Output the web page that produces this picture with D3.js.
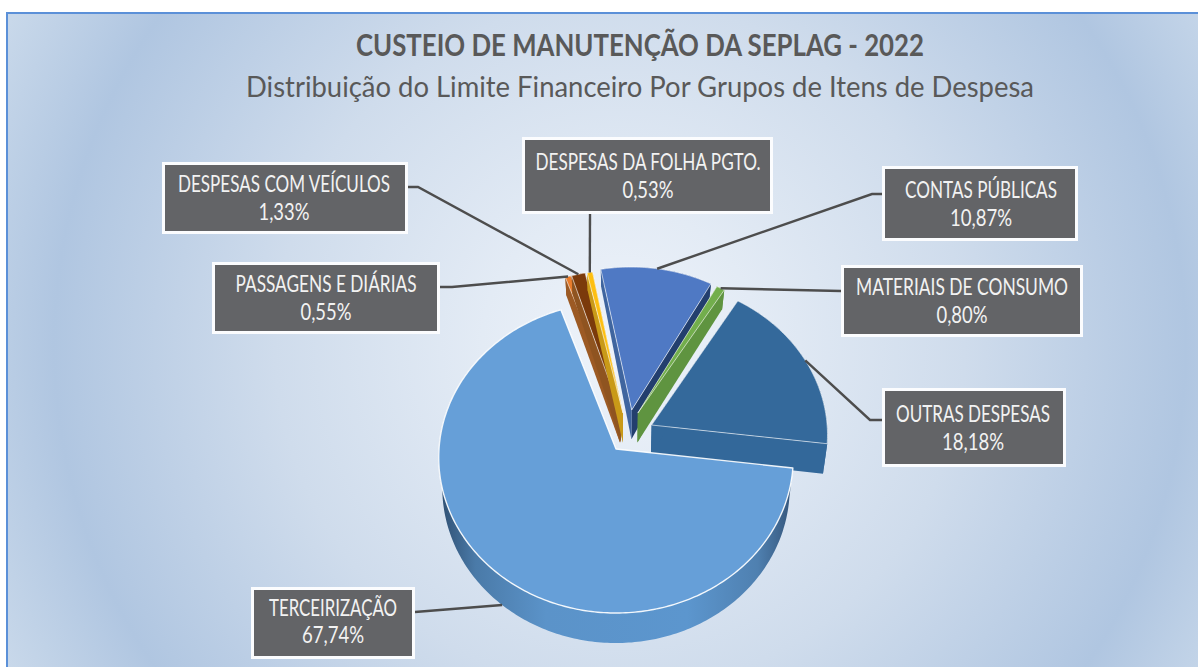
<!DOCTYPE html>
<html lang="pt">
<head>
<meta charset="utf-8">
<script src="https://cdn.jsdelivr.net/npm/d3@7"></script>
<style>
html,body{margin:0;padding:0;background:#fff;overflow:hidden}
svg{display:block;font-family:Lato,"Open Sans",sans-serif}
</style>
</head>
<body>
<svg id="chart" width="1198" height="667"></svg>
<script>
// ---- data ----
const categories = ["TERCEIRIZAÇÃO","PASSAGENS E DIÁRIAS","DESPESAS COM VEÍCULOS","DESPESAS DA FOLHA PGTO.","CONTAS PÚBLICAS","MATERIAIS DE CONSUMO","OUTRAS DESPESAS"];
const values = [67.74,0.55,1.33,0.53,10.87,0.80,18.18];
const titleText = "CUSTEIO DE MANUTENÇÃO DA SEPLAG - 2022";
const subtitleText = "Distribuição do Limite Financeiro Por Grupos de Itens de Despesa";

// ---- styles, per slice: top face, rim wall, leading side wall, trailing side wall ----
const topColors  = ["#669fd8","#e97c2b","#7b3a0b","#fdbf12","#4f79c4","#72ae4c","#34699b"];
const sideColors = ["#5b94cc","#9c5a24","#8f5420","#c99a18","#3f659f","#5f9440","#33689a"];
const leftColors = ["#5b94cc","#8f5420","#8f5420","#b88a18","#233f6e","#5f9440","#33689a"];

// ---- layout: explosion of every slice in disc units ----
const explodeX = [0,0.023,0.028,0.04,0.09,0.125,0.203];
const explodeY = [0,0.235,0.235,0.235,0.255,0.235,0.156];
// label boxes: left, top, right, bottom, text centre, line widths, baselines, elbow of the leader
const boxL = [251,212,162,522,882,841,882];
const boxT = [587,262,162,137,166,265,388];
const boxR = [415,440,408,773,1078,1083,1066];
const boxB = [659,334,234,214,241,337,467];
const textC = [333,326,284,648,981,962,973];
const line1W = [128,181,212,225,152,212,154];
const line2W = [62,51,51,51,62,51,62];
const base1 = [616,292,192,170,198,295,422];
const base2 = [643,320,220,198,226,323,450];
const leaderFromX = [415,440,408,590,882,841,882];
const leaderFromY = [612,287,187,214,194,291,420];
const elbowX = [null,452,418,null,872,null,870];

// ---- projection of the tilted disc ----
const cx = 616, cy = 449, p = 0.055;
const sx = d3.scaleLinear().domain([0,1]).range([0,177]);
const sy = d3.scaleLinear().domain([0,1]).range([0,155]);
const project = (X,Y) => { const s = 1/(1+p*Y); return [cx+sx(X)*s, cy-sy(Y)*s]; };
const depth = Y => 30-12*Math.max(0,Y-0.2);
const down = (X,Y) => { const q = project(X,Y); return [cx+(q[0]-cx)*0.98, q[1]+depth(Y)]; };

const fmtPct = d3.formatLocale({decimal:",",thousands:".",grouping:[3],currency:["","%"]}).format(".2f");
const svg = d3.select("#chart");
const defs = svg.append("defs");

const bg = defs.append("radialGradient").attr("id","bg").attr("gradientUnits","userSpaceOnUse")
  .attr("cx",620).attr("cy",345).attr("r",690);
[[0,"#eef3fa"],[0.2,"#e3ebf5"],[0.5,"#cfdcec"],[0.82,"#b0c6e1"],[1,"#c8d8ea"]].forEach(s=>bg.append("stop").attr("offset",s[0]).attr("stop-color",s[1]));
const rimG = defs.append("linearGradient").attr("id","rim0").attr("gradientUnits","userSpaceOnUse")
  .attr("x1",440).attr("x2",793).attr("y1",0).attr("y2",0);
[[0,"#2f4f72"],[0.1,"#4a7aa8"],[0.3,"#5b93c9"],[0.7,"#5c96ce"],[0.9,"#4f80b0"],[1,"#34557a"]].forEach(s=>rimG.append("stop").attr("offset",s[0]).attr("stop-color",s[1]));

svg.append("rect").attr("width",1198).attr("height",667).attr("fill","#fff");
svg.append("rect").attr("x",7).attr("y",13).attr("width",1300).attr("height",800)
  .attr("fill","url(#bg)").attr("stroke","#5b90d8").attr("stroke-width",2);

// ---- pie ----
const startA = 97*Math.PI/180;
const arcs = d3.pie().sort(null).startAngle(startA).endAngle(startA+2*Math.PI)(values);
const line = d3.line();
const drawOrder = [1,2,3,4,5,6,0];
const gPie = svg.append("g");

drawOrder.forEach(i=>{
  const a = arcs[i], ex = explodeX[i], ey = explodeY[i];
  const n = Math.max(4,Math.ceil((a.endAngle-a.startAngle)*60));
  const angles = d3.range(n+1).map(k=>a.startAngle+(a.endAngle-a.startAngle)*k/n);
  const disc = angles.map(t=>[ex+Math.sin(t), ey+Math.cos(t)]);
  const rimTop = disc.map(d=>project(d[0],d[1]));
  const rimBot = disc.map(d=>down(d[0],d[1]));
  const first = disc[0], last = disc[n];

  // rim wall
  gPie.append("path").attr("d",line(rimTop.concat(rimBot.slice().reverse()))+"Z")
    .attr("fill", i===0 ? "url(#rim0)" : sideColors[i]);
  if(i!==0){
    // side walls
    gPie.append("path").attr("d",line([project(ex,ey),project(last[0],last[1]),down(last[0],last[1]),down(ex,ey)])+"Z")
      .attr("fill",leftColors[i]);
    gPie.append("path").attr("d",line([project(ex,ey),project(first[0],first[1]),down(first[0],first[1]),down(ex,ey)])+"Z")
      .attr("fill",sideColors[i]);
  }
  // top face
  gPie.append("path").attr("d",line([project(ex,ey)].concat(rimTop))+"Z")
    .attr("fill",topColors[i]).attr("stroke","#fff").attr("stroke-opacity",i===0?0.9:0.6)
    .attr("stroke-width",i===0?1.4:1).attr("stroke-linejoin","round");
});

// ---- leaders ----
const gLead = svg.append("g").attr("fill","none").attr("stroke","#4d4d4d").attr("stroke-width",2.4);
arcs.forEach((a,i)=>{
  const mid = (a.startAngle+a.endAngle)/2;
  const X = explodeX[i]+Math.sin(mid), Y = explodeY[i]+Math.cos(mid);
  const end = i===0 ? down(X,Y) : project(X,Y);
  const pts = [[leaderFromX[i],leaderFromY[i]]];
  if(elbowX[i]!==null) pts.push([elbowX[i],leaderFromY[i]]);
  pts.push(end);
  gLead.append("path").attr("d",line(pts));
});

// ---- labels ----
const gLab = svg.append("g");
categories.forEach((c,i)=>{
  gLab.append("rect").attr("x",boxL[i]+1.5).attr("y",boxT[i]+1.5)
    .attr("width",boxR[i]-boxL[i]-3).attr("height",boxB[i]-boxT[i]-3)
    .attr("fill","#636467").attr("stroke","#fbfcfe").attr("stroke-width",3);
  gLab.append("text").attr("x",textC[i]).attr("y",base1[i]).attr("text-anchor","middle")
    .attr("font-size",22.5).attr("fill","#f2f2f2")
    .attr("textLength",line1W[i]).attr("lengthAdjust","spacingAndGlyphs").text(c);
  gLab.append("text").attr("x",textC[i]).attr("y",base2[i]).attr("text-anchor","middle")
    .attr("font-size",22.5).attr("fill","#f2f2f2")
    .attr("textLength",line2W[i]).attr("lengthAdjust","spacingAndGlyphs").text(fmtPct(values[i])+"%");
});

// ---- titles ----
svg.append("text").attr("x",640).attr("y",56).attr("text-anchor","middle")
  .attr("font-size",31).attr("font-weight",700).attr("fill","#595959")
  .attr("textLength",568).attr("lengthAdjust","spacingAndGlyphs").text(titleText);
svg.append("text").attr("x",640).attr("y",97).attr("text-anchor","middle")
  .attr("font-size",29).attr("fill","#595959")
  .attr("textLength",788).attr("lengthAdjust","spacingAndGlyphs").text(subtitleText);
</script>
</body>
</html>
